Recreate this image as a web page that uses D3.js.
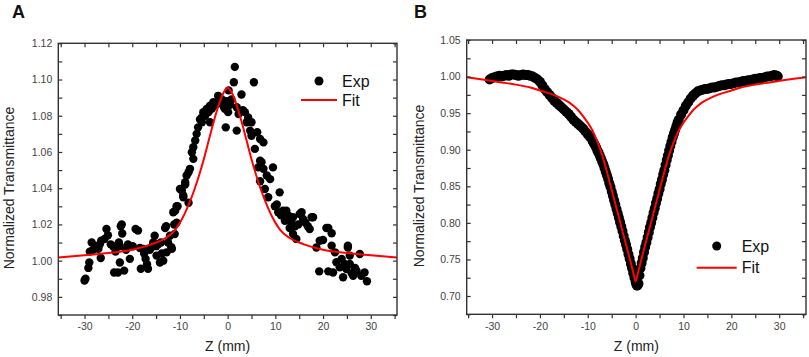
<!DOCTYPE html>
<html><head><meta charset="utf-8">
<script src="https://cdn.jsdelivr.net/npm/d3@7"></script>
<style>
html,body{margin:0;padding:0;background:#fff;}
svg{display:block;font-family:Arial,"Liberation Sans",sans-serif;}
</style></head>
<body>
<svg id="chart" width="809" height="357"></svg>
<script>
// ---------- Panel A data (Z in mm, normalized transmittance) ----------
const expAz = [-30.0,-29.8,-29.2,-29.0,-28.9,-28.5,-28.2,-27.6,-27.1,-26.8,-26.6,-26.5,-25.8,-25.4,-25.1,-24.5,-24.0,-23.8,-23.5,-23.0,-22.8,-22.6,-22.4,-22.2,-22.1,-22.6,-21.7,-21.3,-20.9,-20.5,-19.9,-19.3,-18.8,-18.4,-18.2,-17.7,-17.5,-17.2,-16.9,-16.7,-16.3,-16.0,-15.6,-15.3,-15.0,-14.9,-14.6,-14.2,-14.0,-13.8,-13.5,-13.1,-12.9,-12.8,-12.5,-12.1,-11.8,-11.7,-11.4,-11.2,-11.1,-11.0,-10.7,-10.7,-10.5,-10.0,
-9.6,-9.3,-9.3,-8.9,-8.9,-8.6,-8.2,-8.2,-7.9,-7.5,-7.2,-7.2,-6.8,-6.5,-6.2,-5.8,-5.4,-5.4,-5.1,-4.7,-4.4,-4.0,-3.7,-3.7,-3.3,-3.0,-2.5,-2.0,-1.6,-1.2,-0.8,-0.6,-0.4,-0.2,0.1,0.2,0.5,0.8,1.3,1.5,1.9,1.9,2.3,2.9,3.2,3.6,4.0,4.3,4.7,5.0,5.0,5.5,5.7,6.2,6.4,6.8,6.8,6.8,7.1,7.5,7.5,7.8,8.2,8.5,8.9,9.5,9.9,
10.3,10.6,10.9,11.2,11.6,12.0,12.3,12.7,13.0,13.3,13.7,13.7,14.1,14.4,14.8,15.1,15.5,15.8,16.3,16.8,17.2,17.6,17.9,18.6,19.2,19.3,20.0,20.7,21.1,21.1,21.8,21.8,22.1,22.5,22.8,23.5,23.9,24.2,24.6,24.9,25.2,25.2,25.6,25.6,26.0,26.3,26.7,27.0,27.7,28.0,28.7,29.2];
const expAt = [0.989,0.990,0.996,0.999,1.005,1.010,1.006,1.008,1.0065,1.009,1.0015,1.011,1.012,1.0175,1.014,1.009,1.008,0.9935,1.005,0.9935,1.010,1.008,1.019,1.020,1.015,0.999,0.9945,1.006,1.009,1.001,1.008,1.0175,1.0166,1.007,0.9955,1.0065,1.004,1.001,0.998,0.9955,1.006,1.0074,1.010,1.0138,1.008,1.0028,1.009,0.999,1.010,1.004,1.000,1.018,1.019,1.0046,1.010,1.0138,1.0074,1.0065,1.0267,1.020,1.0147,1.0276,1.021,1.030,1.030,1.0396,
1.0387,1.036,1.035,1.042,1.0433,1.047,1.0488,1.032,1.0507,1.0598,1.0562,1.0626,1.0663,1.070,1.0736,1.078,1.0764,1.079,1.082,1.080,1.0838,1.082,1.0856,1.0764,1.084,1.0875,1.086,1.091,1.087,1.089,1.085,1.0838,1.0736,1.088,1.082,1.094,1.086,1.089,1.0985,1.107,1.0847,1.0718,1.081,1.0917,1.083,1.082,1.0764,1.079,1.0718,1.0764,1.069,1.0985,1.0617,1.0709,1.0515,1.0672,1.0552,1.0438,1.0543,1.0653,1.0507,1.0396,1.047,1.035,1.045,1.0515,1.030,
1.031,1.0267,1.0377,1.025,1.0276,1.022,1.0276,1.0249,1.018,1.021,1.024,1.0147,1.019,1.012,1.020,1.0258,1.0267,1.023,1.021,1.019,1.0175,1.024,1.024,1.0073,0.9941,1.011,1.0114,1.018,0.9941,1.018,1.0151,1.0083,0.9935,1.0046,0.9991,0.9963,1.001,0.9908,0.998,0.9954,1.0083,1.0073,1.0028,0.9982,0.993,0.9917,0.996,0.9945,1.0037,0.9917,0.9935,0.9886];
const fitAz = [-35.5,-30,-25,-20,-16,-13,-11,-10,-9,-8,-7,-6,-5,-4,-3,-2,-1,0,1,2,3,4,5,6,7,8,9,10,11,13,16,20,25,30,35.5];
const fitAt = [1.0018,1.0030,1.0042,1.0060,1.0090,1.0125,1.0170,1.0210,1.0260,1.0320,1.0390,1.0470,1.0560,1.0660,1.0760,1.0850,1.0920,1.0955,1.0920,1.0850,1.0760,1.0660,1.0560,1.0470,1.0390,1.0320,1.0260,1.0210,1.0170,1.0125,1.0090,1.0060,1.0042,1.0030,1.0018];

// ---------- Panel B data ----------
const expBz = [-30.5,-30.0,-29.5,-29.0,-28.5,-28.0,-27.5,-27.0,-26.5,-26.0,-25.5,-25.0,-24.5,-24.0,-23.5,-23.0,-22.5,-22.0,-21.5,-21.0,-20.5,-20.0,-19.5,-19.0,-18.5,-18.0,-17.5,-17.0,-16.5,-16.0,-15.5,-15.0,-14.5,-14.0,-13.5,-13.0,-12.5,-12.0,-11.5,-11.0,-10.5,-10.0,-9.5,
-9.0,-8.75,-8.5,-8.25,-8.0,-7.75,-7.5,-7.25,-7.0,-6.75,-6.5,-6.25,-6.0,-5.75,-5.5,-5.25,-5.0,-4.75,-4.5,-4.25,-4.0,-3.75,-3.5,-3.25,-3.0,-2.75,-2.5,-2.25,-2.0,-1.75,-1.5,-1.25,-1.0,-0.75,-0.5,-0.25,0.0,0.15,0.3,0.45,0.6,0.8,
1.0,1.25,1.5,1.75,2.0,2.25,2.5,2.75,3.0,3.25,3.5,3.75,4.0,4.25,4.5,4.75,5.0,5.25,5.5,5.75,6.0,6.25,6.5,6.75,7.0,7.25,7.5,7.75,8.0,8.25,8.5,8.75,9.0,
9.5,10.0,10.5,11.0,11.5,12.0,12.5,13.0,13.5,14.0,14.5,15.0,15.5,16.0,16.5,17.0,17.5,18.0,18.5,19.0,19.5,20.0,20.5,21.0,21.5,22.0,22.5,23.0,23.5,24.0,24.5,25.0,25.5,26.0,26.5,27.0,27.5,28.0,28.5,29.0,29.5,29.7];
const expBt = [0.996,0.998,0.999,1.000,1.001,1.000,1.001,1.002,1.001,1.003,1.003,1.002,1.001,1.002,1.003,1.002,1.002,1.001,1.000,0.998,0.996,0.993,0.988,0.983,0.979,0.975,0.971,0.967,0.964,0.961,0.958,0.955,0.952,0.949,0.945,0.941,0.938,0.935,0.932,0.929,0.925,0.921,0.917,
0.912,0.909,0.906,0.903,0.899,0.896,0.892,0.888,0.884,0.880,0.875,0.870,0.865,0.860,0.854,0.849,0.843,0.837,0.831,0.825,0.819,0.813,0.807,0.801,0.795,0.789,0.782,0.776,0.770,0.764,0.757,0.751,0.744,0.738,0.731,0.725,0.719,0.716,0.714,0.715,0.717,0.728,
0.738,0.745,0.752,0.760,0.767,0.773,0.780,0.787,0.794,0.800,0.807,0.814,0.820,0.827,0.833,0.840,0.846,0.853,0.859,0.866,0.872,0.879,0.886,0.892,0.899,0.905,0.911,0.917,0.922,0.927,0.932,0.937,0.941,
0.948,0.954,0.960,0.965,0.970,0.974,0.977,0.980,0.981,0.982,0.983,0.983,0.984,0.985,0.985,0.986,0.987,0.988,0.988,0.989,0.990,0.990,0.991,0.992,0.992,0.993,0.994,0.994,0.995,0.995,0.996,0.997,0.997,0.998,0.998,0.999,1.000,1.000,1.001,1.002,1.001,1.000];
const fitBz = [-35.3,-32,-28,-25,-22,-20,-18,-16,-14,-13,-12,-11,-10,-9,-8,-7,-6,-5,-4,-3,-2,-1,-0.5,0,0.5,1,2,3,4,5,6,7,8,9,10,11,12,13,14,16,18,20,22,25,28,32,35.6];
const fitBt = [0.999,0.996,0.992,0.989,0.985,0.981,0.977,0.972,0.965,0.960,0.954,0.946,0.937,0.926,0.911,0.893,0.870,0.845,0.820,0.795,0.770,0.745,0.732,0.720,0.732,0.745,0.770,0.795,0.820,0.845,0.870,0.893,0.911,0.926,0.937,0.946,0.954,0.960,0.965,0.972,0.977,0.981,0.985,0.989,0.992,0.996,0.999];

// ---------- Ticks ----------
const xTicks = [-35,-30,-25,-20,-15,-10,-5,0,5,10,15,20,25,30,35];
const xLabels = [-30,-20,-10,0,10,20,30];
const yTicksA = [0.97,0.98,0.99,1.00,1.01,1.02,1.03,1.04,1.05,1.06,1.07,1.08,1.09,1.10,1.11,1.12];
const yLabelsA = [0.98,1.00,1.02,1.04,1.06,1.08,1.10,1.12];
const yTicksB = [0.675,0.70,0.725,0.75,0.775,0.80,0.825,0.85,0.875,0.90,0.925,0.95,0.975,1.00,1.025,1.05];
const yLabelsB = [0.70,0.75,0.80,0.85,0.90,0.95,1.00,1.05];

const svg = d3.select("#chart");
const fmt = d3.format(".2f");

function drawPanel(cfg){
  const x = d3.scaleLinear().domain(cfg.xDomain).range([cfg.left, cfg.right]);
  const y = d3.scaleLinear().domain(cfg.yDomain).range([cfg.bottom, cfg.top]);
  const g = svg.append("g");
  const clipId = "clip" + cfg.name;
  svg.append("clipPath").attr("id", clipId).append("rect")
    .attr("x", cfg.left).attr("y", cfg.top).attr("width", cfg.right-cfg.left).attr("height", cfg.bottom-cfg.top);

  const pts = cfg.ez.map((z,i)=>[z, cfg.et[i]]);
  g.append("g").selectAll("circle").data(pts).join("circle")
    .attr("cx", d=>x(d[0])).attr("cy", d=>y(d[1])).attr("r", cfg.r).attr("fill", "#000");

  const fit = cfg.fz.map((z,i)=>[z, cfg.ft[i]]);
  g.append("path").datum(fit)
    .attr("clip-path", `url(#${clipId})`)
    .attr("d", d3.line().x(d=>x(d[0])).y(d=>y(d[1])).curve(d3.curveMonotoneX))
    .attr("fill","none").attr("stroke","#ff0000").attr("stroke-width",2);

  const axB = d3.axisBottom(x).tickValues(xTicks).tickSizeInner(4).tickSizeOuter(0).tickPadding(4)
    .tickFormat(d => xLabels.includes(d) ? String(d) : "");
  const axT = d3.axisTop(x).tickValues(xTicks).tickSizeInner(-4).tickSizeOuter(0).tickFormat("");
  const axL = d3.axisLeft(y).tickValues(cfg.yTicks).tickSizeInner(-4).tickSizeOuter(0).tickPadding(6)
    .tickFormat(d => cfg.yLabels.some(v=>Math.abs(v-d)<1e-9) ? fmt(d) : "");
  const axR = d3.axisRight(y).tickValues(cfg.yTicks).tickSizeInner(-4).tickSizeOuter(0).tickFormat("");

  const gb = g.append("g").attr("transform",`translate(0,${cfg.bottom})`).call(axB);
  const gt = g.append("g").attr("transform",`translate(0,${cfg.top})`).call(axT);
  const gl = g.append("g").attr("transform",`translate(${cfg.left},0)`).call(axL);
  const gr = g.append("g").attr("transform",`translate(${cfg.right},0)`).call(axR);
  [gb,gt,gl,gr].forEach(a=>{
    a.select(".domain").remove();
    a.selectAll(".tick line").attr("stroke","#333").attr("stroke-width",1.2);
    a.selectAll(".tick text").attr("fill","#444").style("font-size","10.5px")
      .style("font-family","Arial, 'Liberation Sans', sans-serif");
  });

  g.append("rect").attr("x",cfg.left).attr("y",cfg.top)
    .attr("width",cfg.right-cfg.left).attr("height",cfg.bottom-cfg.top)
    .attr("fill","none").attr("stroke","#333").attr("stroke-width",1.4);

  g.append("text").attr("x",(cfg.left+cfg.right)/2).attr("y",351)
    .attr("text-anchor","middle").attr("fill","#222").style("font-size","14px").text("Z (mm)");
  g.append("text").attr("transform",`translate(${cfg.ylabX},${cfg.ylabY}) rotate(-90)`)
    .attr("text-anchor","middle").attr("fill","#222").style("font-size","14px").text("Normalized Transmittance");

  g.append("text").attr("x",cfg.letterX).attr("y",18).attr("fill","#111")
    .style("font-size","18px").style("font-weight","bold").text(cfg.name);

  const L = cfg.legend;
  g.append("circle").attr("cx",L.dotX).attr("cy",L.dotY).attr("r",4.5).attr("fill","#000");
  g.append("text").attr("x",L.textX).attr("y",L.expY).attr("fill","#111").style("font-size","16px").text("Exp");
  g.append("line").attr("x1",L.lineX1).attr("x2",L.lineX2).attr("y1",L.lineY).attr("y2",L.lineY)
    .attr("stroke","#ff0000").attr("stroke-width",2);
  g.append("text").attr("x",L.textX).attr("y",L.fitY).attr("fill","#111").style("font-size","16px").text("Fit");
}

drawPanel({
  name:"A", xDomain:[-35.5,35.5], yDomain:[0.97,1.12],
  left:58.3, right:397, top:43.3, bottom:315,
  ez:expAz, et:expAt, fz:fitAz, ft:fitAt, r:4.2,
  yTicks:yTicksA, yLabels:yLabelsA,
  ylabX:14, ylabY:188, letterX:12,
  legend:{dotX:319, dotY:81, textX:342, expY:87, lineX1:301, lineX2:337, lineY:100, fitY:106}
});
drawPanel({
  name:"B", xDomain:[-35.3,35.6], yDomain:[0.675,1.05],
  left:466.7, right:806, top:40, bottom:314.3,
  ez:expBz, et:expBt, fz:fitBz, ft:fitBt, r:5,
  yTicks:yTicksB, yLabels:yLabelsB,
  ylabX:424, ylabY:186, letterX:414,
  legend:{dotX:716.7, dotY:246, textX:741.7, expY:251.5, lineX1:696.7, lineX2:736.7, lineY:267.7, fitY:273}
});
</script>
</body></html>
